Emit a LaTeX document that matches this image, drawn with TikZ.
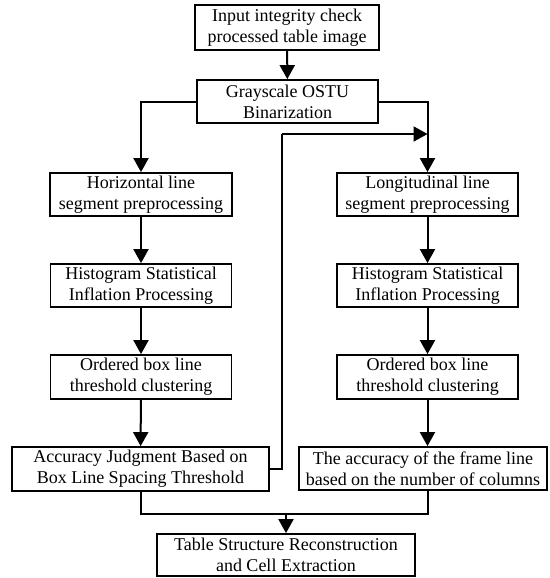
\documentclass[tikz,border=0pt]{standalone}
\usepackage{fontspec}
\setmainfont{Liberation Serif}
\usetikzlibrary{arrows.meta}
\begin{document}
\begin{tikzpicture}[x=1pt,y=-1pt,
 box/.style={draw, line width=1.8pt, align=center, inner sep=0pt, font=\fontsize{18}{21}\selectfont},
 arr/.style={line width=2pt, -{Triangle[width=15pt,length=14pt]}},
 ln/.style={line width=2pt}]
\useasboundingbox (0,0) rectangle (549,578);
\node[box, minimum width=184, minimum height=45] (top) at (287,27.5) {Input integrity check\\processed table image};
\node[box, minimum width=181, minimum height=43] (gray) at (287.5,101.5) {Grayscale OSTU\\Binarization};
\node[box, minimum width=182, minimum height=43] (H1) at (141,194.5) {Horizontal line\\segment preprocessing};
\node[box, minimum width=181, minimum height=43] (L1) at (427.5,194.5) {Longitudinal line\\segment preprocessing};
\node[box, minimum width=181, minimum height=43] (H2) at (141,285.5) {Histogram Statistical\\Inflation Processing};
\node[box, minimum width=181, minimum height=43] (L2) at (427.5,285.5) {Histogram Statistical\\Inflation Processing};
\node[box, minimum width=181, minimum height=44] (H3) at (141,377) {Ordered box line\\threshold clustering};
\node[box, minimum width=181, minimum height=44] (L3) at (427.5,377) {Ordered box line\\threshold clustering};
\node[box, minimum width=257, minimum height=44] (A) at (140.5,469) {Accuracy Judgment Based on\\Box Line Spacing Threshold};
\node[box, minimum width=248, minimum height=43] (B) at (423,468.5) {The accuracy of the frame line\\based on the number of columns};
\node[box, minimum width=258, minimum height=42] (T) at (286,555) {Table Structure Reconstruction\\and Cell Extraction};
\coordinate (fb) at (282,134);
\coordinate (m) at (286,514);
\draw[arr] (top) -- (gray);
\draw[arr] (gray.west) -| (H1.north);
\draw[arr] (gray.east) -| (L1.north);
\draw[arr] (H1) -- (H2);
\draw[arr] (H2) -- (H3);
\draw[arr] (H3) -- (A);
\draw[arr] (L1) -- (L2);
\draw[arr] (L2) -- (L3);
\draw[arr] (L3) -- (L3 |- B.north);
\draw[ln] (A.east) -| (fb);
\draw[arr] (fb) -- (fb -| L1.north);
\draw[ln] (A.south) |- (m);
\draw[ln] (L3.south |- B.south) |- (m);
\draw[arr] (m) -- (T.north);
\end{tikzpicture}
\end{document}
